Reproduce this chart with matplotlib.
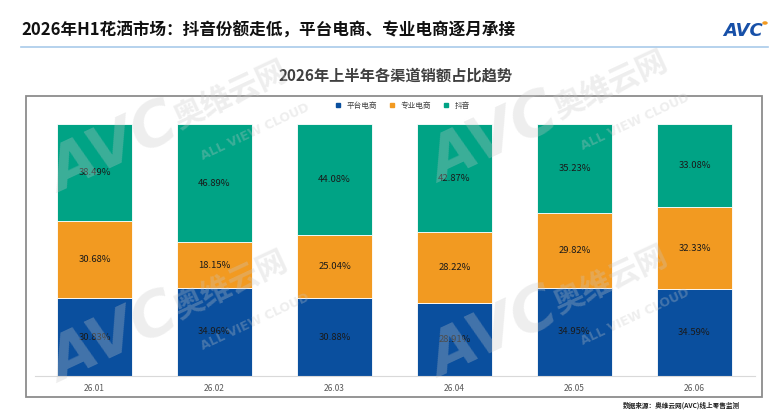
import numpy as np
import matplotlib
matplotlib.use("Agg")
import matplotlib.pyplot as plt
from matplotlib.patches import Rectangle
from matplotlib.lines import Line2D

plt.rcParams["font.family"] = ["Noto Sans CJK SC", "DejaVu Sans"]

# --- data ---
months = ["26.01", "26.02", "26.03", "26.04", "26.05", "26.06"]
series_names = ["平台电商", "专业电商", "抖音"]
platform = [30.83, 34.96, 30.88, 28.91, 34.95, 34.59]
specialist = [30.68, 18.15, 25.04, 28.22, 29.82, 32.33]
douyin = [38.49, 46.89, 44.08, 42.87, 35.23, 33.08]

colors = ["#0A4F9E", "#F29A21", "#00A385"]

W, H = 780, 413
fig = plt.figure(figsize=(W / 100, H / 100), dpi=100)
fig.patch.set_facecolor("white")


def px(x, y):
    return x / W, 1 - y / H


# --- header ---
fig.text(*px(21, 31), "2026年H1花洒市场：抖音份额走低，平台电商、专业电商逐月承接",
         fontsize=12, fontweight="bold", color="#111111", va="center", ha="left")
fig.add_artist(Line2D([21 / W, 768 / W], [1 - 47 / H] * 2, color="#A9CBEA", lw=1.2))
fig.text(*px(743, 31), "AVC", fontsize=13, fontweight="bold", fontstyle="italic",
         color="#1750A8", va="center", ha="center", family="DejaVu Sans")
fig.add_artist(plt.Circle(px(765, 23), 2.0 / W, color="#F29A21", transform=fig.transFigure))

# --- chart box ---
fig.add_artist(Rectangle(px(26, 397), (762 - 26) / W, (397 - 96) / H, fill=False,
                         edgecolor="#8C8C8C", lw=1.3, transform=fig.transFigure))
fig.text(*px(396, 76), "2026年上半年各渠道销额占比趋势", fontsize=11, fontweight="bold",
         color="#404040", va="center", ha="center")

# --- bars ---
ax = fig.add_axes([34.5 / W, 37 / H, 720 / W, 252 / H])
x = np.arange(len(months))
bottom = np.zeros(len(months))
for vals, c in zip([platform, specialist, douyin], colors):
    vals = np.array(vals)
    ax.bar(x, vals, width=0.625, bottom=bottom, color=c, edgecolor="white", lw=0.6)
    for xi, b, v in zip(x, bottom, vals):
        ax.text(xi, b + v / 2, f"{v:.2f}%", ha="center", va="center", fontsize=6.8,
                color="#1A1A1A")
    bottom += vals

ax.set_xlim(-0.5, len(months) - 0.5)
ax.set_ylim(0, 100)
ax.set_xticks(x)
ax.set_xticklabels(months, fontsize=6, color="#595959")
ax.tick_params(axis="x", length=0, pad=6)
ax.set_yticks([])
for s in ["top", "right", "left"]:
    ax.spines[s].set_visible(False)
ax.spines["bottom"].set_color("#D9D9D9")
ax.spines["bottom"].set_linewidth(0.8)

# --- legend ---
handles = [Line2D([], [], marker="s", ls="", color=c, markersize=3.5) for c in colors]
fig.legend(handles, series_names, loc="center", bbox_to_anchor=px(400, 106), ncol=3,
           frameon=False, fontsize=5.5, handletextpad=0.1, columnspacing=1.0,
           labelcolor="#404040")

# --- source ---
fig.text(*px(740, 405), "数据来源：奥维云网(AVC)线上零售监测", fontsize=4.8,
         fontweight="bold", color="#222222", ha="right", va="center")

# --- watermarks ---
wm = dict(color="#C8C8C8", alpha=0.3, rotation=25, ha="center", va="center", zorder=10)
for ax0, ay0 in [(115, 150), (495, 140), (115, 340), (495, 335)]:
    fig.text(*px(ax0, ay0), "AVC", fontsize=44, fontweight="bold", fontstyle="italic",
             family="DejaVu Sans", **wm)
    fig.text(*px(ax0 + 115, ay0 - 55), "奥维云网", fontsize=22, fontweight="bold", **wm)
    fig.text(*px(ax0 + 140, ay0 - 18), "ALL VIEW CLOUD", fontsize=9, fontweight="bold",
             family="DejaVu Sans", **wm)

fig.savefig("out.png", dpi=100, facecolor="white")
